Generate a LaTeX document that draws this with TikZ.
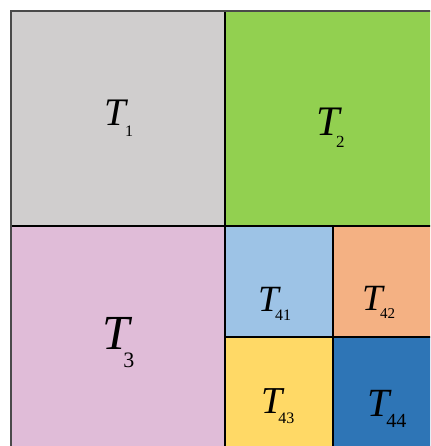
\documentclass[tikz,border=0pt]{standalone}
\usepackage{fontspec}
\setmainfont{Liberation Serif}
\definecolor{cgray}{HTML}{D0CECE}
\definecolor{cgreen}{HTML}{92D050}
\definecolor{cpink}{HTML}{E0BCD8}
\definecolor{clblue}{HTML}{9DC3E6}
\definecolor{cpeach}{HTML}{F4B183}
\definecolor{cyellow}{HTML}{FFD966}
\definecolor{cblue}{HTML}{2E75B6}
\definecolor{cframe}{HTML}{4A4A4A}
\tikzset{
  lab/.style={anchor=base west, inner sep=0pt, text=black},
  inner line/.style={draw=black, line width=1.3pt},
}
% #1 T size, #2 kern, #3 drop, #4 sub size, #5 sub text
\newcommand{\tsublabel}[5]{{\fontsize{#1}{#1}\selectfont\itshape T}\hspace{#2}\raisebox{-#3}{\fontsize{#4}{#4}\selectfont #5}}
\begin{document}
\begin{tikzpicture}[x=1pt,y=-1pt]
\useasboundingbox (0,0) rectangle (430,446);
\clip (0,0) rectangle (430,446);
\fill[white] (0,0) rectangle (430,446);
% cells
\fill[cgray]   (11,11)   rectangle (225,226);
\fill[cgreen]  (225,11)  rectangle (445,226);
\fill[cpink]   (11,226)  rectangle (225,460);
\fill[clblue]  (225,226) rectangle (333,337);
\fill[cpeach]  (333,226) rectangle (445,337);
\fill[cyellow] (225,337) rectangle (333,460);
\fill[cblue]   (333,337) rectangle (445,460);
% lines
\draw[inner line] (225,11) -- (225,460);
\draw[inner line] (11,226) -- (445,226);
\draw[inner line] (333,226) -- (333,460);
\draw[inner line] (225,337) -- (445,337);
\draw[draw=cframe, line width=2pt] (11,11) rectangle (445,460);
% labels
\node[lab] (t1)  at (104,126) {\tsublabel{39pt}{-0.7pt}{11pt}{16pt}{1}};
\node[lab] (t2)  at (316,136) {\tsublabel{42pt}{-3.4pt}{12pt}{17pt}{2}};
\node[lab] (t3)  at (102,349) {\tsublabel{49pt}{-6pt}{18pt}{22pt}{3}};
\node[lab] (t41) at (258,311) {\tsublabel{37pt}{-3.6pt}{9pt}{16pt}{41}};
\node[lab] (t42) at (362,310) {\tsublabel{37pt}{-2.6pt}{8pt}{15pt}{42}};
\node[lab] (t43) at (261,413) {\tsublabel{38pt}{-4pt}{10pt}{16pt}{43}};
\node[lab] (t44) at (367,416) {\tsublabel{40pt}{-3pt}{11pt}{20pt}{44}};
\end{tikzpicture}
\end{document}
